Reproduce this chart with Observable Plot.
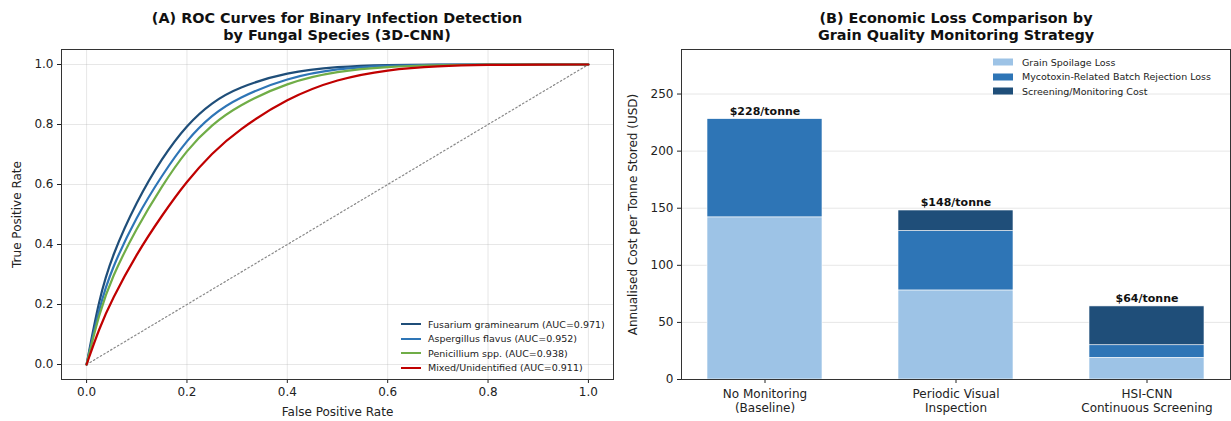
<!DOCTYPE html>
<html><head><meta charset="utf-8">
<script src="https://cdn.jsdelivr.net/npm/d3@7"></script>
<script src="https://cdn.jsdelivr.net/npm/@observablehq/plot@0.6"></script>
<style>
body{margin:0;background:#fff;font-family:"DejaVu Sans",sans-serif;}
#wrap{position:relative;width:1231px;height:421px;overflow:hidden;background:#fff;}
.panel{position:absolute;top:0;}
.title{position:absolute;top:10px;font-weight:bold;font-size:14.4px;line-height:17px;text-align:center;color:#111;white-space:nowrap;transform:translateX(-50%);}
.legend{position:absolute;font-size:9.5px;color:#222;}
.legend .row{display:flex;align-items:center;height:14.5px;white-space:nowrap;}
</style></head><body><div id="wrap"></div>
<script>
// ---------- Panel A data ----------
const fpr = [0, 0.025, 0.05, 0.1, 0.15, 0.2, 0.25, 0.3, 0.4, 0.5, 0.6, 0.7, 0.8, 0.9, 1.0];
const tprFusarium    = [0, 0.22, 0.36, 0.545, 0.688, 0.80, 0.874, 0.923, 0.975, 0.993, 0.999, 1.0, 1.0, 1.0, 1.0];
const tprAspergillus = [0, 0.19, 0.32, 0.495, 0.63, 0.75, 0.832, 0.888, 0.956, 0.987, 0.997, 0.999, 1.0, 1.0, 1.0];
const tprPenicillium = [0, 0.17, 0.29, 0.456, 0.595, 0.717, 0.80, 0.861, 0.941, 0.978, 0.993, 0.998, 1.0, 1.0, 1.0];
const tprMixed       = [0, 0.12, 0.215, 0.37, 0.497, 0.612, 0.705, 0.779, 0.888, 0.952, 0.983, 0.995, 0.999, 1.0, 1.0];
const speciesNames = ["Fusarium graminearum (AUC=0.971)", "Aspergillus flavus (AUC=0.952)", "Penicillium spp. (AUC=0.938)", "Mixed/Unidentified (AUC=0.911)"];
const speciesColors = ["#1f4e79", "#2e75b6", "#70ad47", "#c00000"];
const chance = [0, 1];
const rocTicks = [0, 0.2, 0.4, 0.6, 0.8, 1.0];

// ---------- Panel B data ----------
const strategies = ["No Monitoring\n(Baseline)", "Periodic Visual\nInspection", "HSI-CNN\nContinuous Screening"];
const components = ["Grain Spoilage Loss", "Mycotoxin-Related Batch Rejection Loss", "Screening/Monitoring Cost"];
const componentColors = ["#9dc3e6", "#2e75b6", "#1f4e79"];
const spoilageLoss  = [142, 78, 19];
const mycotoxinLoss = [86, 52, 11];
const screeningCost = [0, 18, 34];
const costTicks = [0, 50, 100, 150, 200, 250];

const wrap = document.getElementById("wrap");
const baseStyle = {fontFamily: "'DejaVu Sans', sans-serif", fontSize: "12px", color: "#222", background: "transparent", overflow: "visible"};

// ---------- Panel A ----------
const tprSeries = [tprFusarium, tprAspergillus, tprPenicillium, tprMixed];
const rocRows = speciesNames.flatMap((name, s) => fpr.map((f, i) => ({fpr: f, tpr: tprSeries[s][i], species: name})));

const rocChart = Plot.plot({
  width: 620, height: 421, marginTop: 49, marginBottom: 42, marginLeft: 61, marginRight: 7,
  style: baseStyle,
  x: {domain: [-0.05, 1.05]},
  y: {domain: [-0.05, 1.05]},
  color: {domain: speciesNames, range: speciesColors},
  marks: [
    Plot.gridX(rocTicks, {stroke: "#b0b0b0", strokeOpacity: 0.3}),
    Plot.gridY(rocTicks, {stroke: "#b0b0b0", strokeOpacity: 0.3}),
    Plot.line(chance, {x: d => d, y: d => d, stroke: "#888", strokeWidth: 1.2, strokeDasharray: "1.5,2.5"}),
    Plot.line(rocRows, {x: "fpr", y: "tpr", z: "species", stroke: "species", strokeWidth: 2.2, curve: "basis"}),
    Plot.axisX(rocTicks, {tickFormat: d3.format(".1f"), tickSize: 4, tickPadding: 4, label: "False Positive Rate", labelAnchor: "center", labelOffset: 36, labelArrow: "none"}),
    Plot.axisY(rocTicks, {tickFormat: d3.format(".1f"), tickSize: 4, tickPadding: 4, label: "True Positive Rate", labelAnchor: "center", labelOffset: 49, labelArrow: "none"}),
    Plot.frame({stroke: "#333"})
  ]
});
rocChart.classList.add("panel");
rocChart.style.left = "0px";
wrap.appendChild(rocChart);

// ---------- Panel B ----------
const costRows = strategies.flatMap((s, i) => [
  {strategy: s, component: components[0], value: spoilageLoss[i]},
  {strategy: s, component: components[1], value: mycotoxinLoss[i]},
  {strategy: s, component: components[2], value: screeningCost[i]}
]);
const totals = strategies.map((s, i) => {
  const total = spoilageLoss[i] + mycotoxinLoss[i] + screeningCost[i];
  return {strategy: s, total, label: `$${total}/tonne`};
});

const costChart = Plot.plot({
  width: 611, height: 421, marginTop: 49, marginBottom: 42, marginLeft: 61, marginRight: 1,
  style: baseStyle,
  x: {type: "band", domain: strategies, paddingInner: 0.4, paddingOuter: 0.13},
  y: {domain: [0, 289]},
  color: {domain: components, range: componentColors},
  marks: [
    Plot.gridY(costTicks, {stroke: "#b0b0b0", strokeOpacity: 0.3}),
    Plot.barY(costRows, {x: "strategy", y: "value", fill: "component", stroke: "white", strokeWidth: 0.6}),
    Plot.text(totals, {x: "strategy", y: "total", text: "label", dy: -8, fontWeight: "bold", fontSize: 11, fill: "#111"}),
    Plot.axisX({tickSize: 4, tickPadding: 5, label: null, lineHeight: 1.15}),
    Plot.axisY(costTicks, {tickSize: 4, tickPadding: 4, label: "Annualised Cost per Tonne Stored (USD)", labelAnchor: "center", labelOffset: 53, labelArrow: "none"}),
    Plot.frame({stroke: "#333"})
  ]
});
costChart.classList.add("panel");
costChart.style.left = "620px";
wrap.appendChild(costChart);

// ---------- Titles ----------
function addTitle(text, cx) {
  const d = document.createElement("div");
  d.className = "title";
  d.style.left = cx + "px";
  d.innerHTML = text;
  wrap.appendChild(d);
}
addTitle("(A) ROC Curves for Binary Infection Detection<br>by Fungal Species (3D-CNN)", 337);
addTitle("(B) Economic Loss Comparison by<br>Grain Quality Monitoring Strategy", 956);

// ---------- Legends ----------
function addLegend(names, colors, left, top, kind, gap) {
  const lg = document.createElement("div");
  lg.className = "legend";
  lg.style.left = left + "px";
  lg.style.top = top + "px";
  names.forEach((n, i) => {
    const row = document.createElement("div");
    row.className = "row";
    const sw = document.createElementNS("http://www.w3.org/2000/svg", "svg");
    sw.setAttribute("width", 20); sw.setAttribute("height", 10);
    sw.style.marginRight = gap + "px";
    if (kind === "line") {
      sw.innerHTML = `<line x1="0" x2="20" y1="5" y2="5" stroke="${colors[i]}" stroke-width="2"/>`;
    } else {
      sw.innerHTML = `<rect x="0" y="1.5" width="20" height="7" fill="${colors[i]}"/>`;
    }
    row.appendChild(sw);
    const t = document.createElement("span");
    t.textContent = n;
    row.appendChild(t);
    lg.appendChild(row);
  });
  wrap.appendChild(lg);
}
addLegend(speciesNames, speciesColors, 401, 317, "line", 7);
addLegend(components, componentColors, 993, 55, "rect", 9);
</script>
</body></html>
